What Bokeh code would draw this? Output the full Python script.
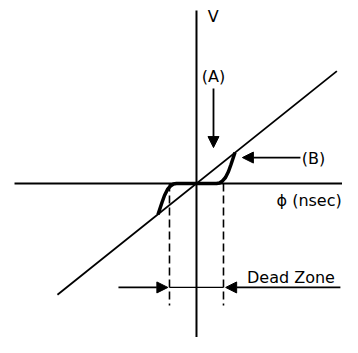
from bokeh.plotting import figure
from bokeh.models import ColumnDataSource, Arrow, NormalHead
from bokeh.core.properties import value
from bokeh.embed import file_html
from bokeh.resources import INLINE

# ---- data (arbitrary units, dead zone half-width = 1) ----
# linear detector characteristic (A): V = k * phi
line_phi = [-5.15, 5.2]
line_k = 0.8
line_v = [line_k * x for x in line_phi]

# characteristic with dead zone (B), right half (left half is symmetric)
curve_phi_r = [0.0, 0.741, 0.852, 0.963, 1.074, 1.185, 1.278, 1.352, 1.426]
curve_v_r = [0.0, 0.0, 0.019, 0.093, 0.222, 0.444, 0.704, 0.926, 1.148]
curve_phi = [-x for x in curve_phi_r[::-1]] + curve_phi_r[1:]
curve_v = [-y for y in curve_v_r[::-1]] + curve_v_r[1:]

dead_zone = [-1.0, 1.0]
dead_zone_bottom = -4.52
dead_zone_y = -3.85

# axes extents
phi_axis = [-6.74, 6.0]
v_axis = [-6.6, 6.41]

# labels
label_text = ["V", "(A)", "(B)", "\u03d5 (nsec)", "Dead Zone"]
label_x = [0.42, 0.63, 4.33, 5.38, 1.87]
label_y = [6.2, 3.96, 0.93, -0.63, -3.5]
label_align = ["left", "center", "center", "right", "left"]

# annotation arrows
arrow_x0 = [0.63, 3.85, -2.89, 5.33]
arrow_y0 = [3.52, 0.96, dead_zone_y, dead_zone_y]
arrow_x1 = [0.63, 1.70, -1.06, 1.08]
arrow_y1 = [1.33, 0.96, dead_zone_y, dead_zone_y]

p = figure(width=342, height=337, output_backend="svg", toolbar_location=None,
           x_range=(-7.259, 5.408), y_range=(-5.704, 6.777),
           x_axis_type=None, y_axis_type=None, min_border=0)
p.grid.visible = False
p.outline_line_color = None
p.background_fill_color = "white"
p.border_fill_color = "white"

# coordinate axes
p.line(x=phi_axis, y=[0, 0], line_color="black", line_width=2)
p.line(x=[0, 0], y=v_axis, line_color="black", line_width=2)

# linear characteristic (A)
p.line(x=line_phi, y=line_v, line_color="black", line_width=1.8)

# dead-zone characteristic (B)
p.line(x=curve_phi, y=curve_v, line_color="black", line_width=3.5)

# dashed dead-zone limits
for xd in dead_zone:
    p.line(x=[xd, xd], y=[0, dead_zone_bottom], line_color="black",
           line_width=1.6, line_dash="8 4")

# dead-zone span line
p.line(x=dead_zone, y=[dead_zone_y, dead_zone_y], line_color="black", line_width=1.2)

asrc = ColumnDataSource(dict(x0=arrow_x0, y0=arrow_y0, x1=arrow_x1, y1=arrow_y1))
p.add_layout(Arrow(source=asrc, x_start="x0", y_start="y0", x_end="x1", y_end="y1",
                   line_color="black", line_width=1.8,
                   end=NormalHead(size=11, fill_color="black", line_color="black")))

lsrc = ColumnDataSource(dict(x=label_x, y=label_y, t=label_text, a=label_align))
p.text(x="x", y="y", text="t", source=lsrc, text_align="a", text_baseline="middle",
       text_font=value("DejaVu Sans"), text_font_size="16px", text_color="black")

open("out.html", "w").write(file_html(p, INLINE))
